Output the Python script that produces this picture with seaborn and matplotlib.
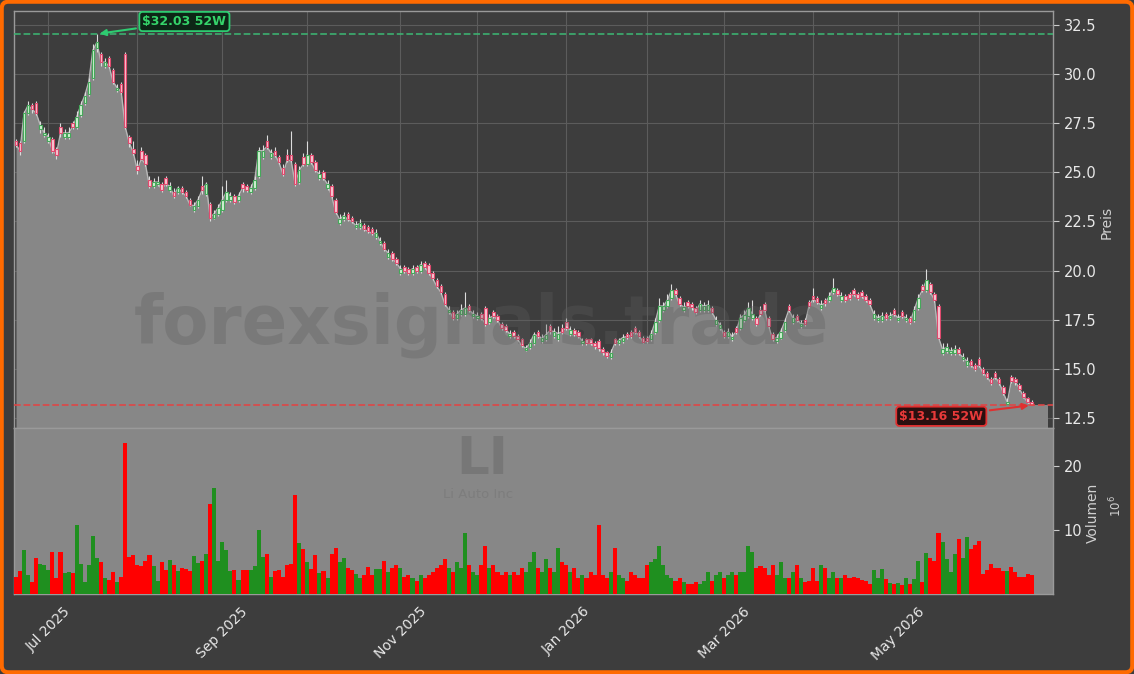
import numpy as np
import pandas as pd
import matplotlib
matplotlib.use("Agg")
import matplotlib.pyplot as plt
import seaborn as sns
from matplotlib.patches import FancyBboxPatch

# =============================================================
# DATEN (Li Auto, 52 Wochen, Tageskerzen, Volumen in Mio.)
# =============================================================

opens = [
    26.6, 26.5, 26.6, 28.0, 28.4, 28.5, 27.2, 26.9, 26.6, 26.7,
    26.2, 27.3, 26.8, 26.8, 27.5, 27.3, 27.9, 28.5, 29.0, 29.8,
    31.3, 31.0, 30.4, 30.8, 30.2, 29.2, 29.5, 31.0, 26.8, 26.2,
    25.3, 26.1, 25.9, 24.6, 24.3, 24.4, 24.4, 24.7, 24.1, 24.0,
    24.0, 24.2, 24.0, 23.6, 23.1, 23.3, 24.3, 23.9, 23.4, 22.7,
    22.9, 23.1, 23.6, 23.6, 23.8, 23.6, 24.4, 24.3, 24.0, 24.2,
    24.8, 25.8, 26.6, 25.8, 26.1, 25.8, 25.2, 25.9, 25.9, 25.4,
    24.5, 25.8, 25.4, 25.9, 25.5, 24.7, 25.0, 24.2, 24.3, 23.6,
    22.4, 22.6, 22.9, 22.7, 22.2, 22.2, 22.3, 22.2, 22.1, 21.7,
    21.4, 21.4, 20.7, 20.9, 20.6, 19.9, 20.2, 20.1, 19.9, 20.2,
    20.0, 20.4, 20.3, 19.9, 19.5, 19.2, 18.8, 17.9, 17.9, 17.6,
    17.8, 17.8, 18.2, 17.7, 17.6, 17.8, 18.1, 17.4, 17.9, 17.7,
    17.3, 17.2, 16.7, 16.9, 16.7, 16.5, 15.95, 16.1, 16.3, 16.9,
    16.4, 16.5, 17.2, 16.7, 16.5, 17.1, 17.4, 16.8, 17.0, 16.9,
    16.3, 16.5, 16.5, 16.3, 16.4, 16.0, 15.85, 15.6, 16.5, 16.3,
    16.4, 16.8, 16.9, 17.1, 16.9, 16.6, 16.6, 16.5, 16.9, 17.5,
    18.0, 18.2, 18.6, 19.0, 18.6, 18.0, 18.4, 18.3, 18.1, 18.0,
    18.0, 18.0, 18.1, 17.3, 17.1, 16.9, 16.7, 16.5, 17.1, 17.1,
    17.5, 17.7, 17.6, 17.6, 18.0, 18.3, 17.6, 16.8, 16.4, 16.6,
    17.0, 18.2, 17.4, 17.7, 17.2, 17.5, 18.4, 18.7, 18.6, 18.1,
    18.5, 18.5, 18.9, 19.0, 18.5, 18.7, 18.8, 19.0, 18.8, 18.9,
    18.7, 18.5, 17.6, 17.5, 17.5, 17.8, 17.6, 18.0, 17.5, 17.9,
    17.5, 17.6, 17.5, 18.1, 19.2, 19.0, 19.3, 18.8, 18.2, 15.8,
    15.9, 15.8, 15.8, 16.0, 15.5, 15.2, 15.4, 15.2, 15.5, 15.0,
    14.8, 14.5, 14.8, 14.5, 14.1, 13.2, 14.6, 14.5, 14.2, 13.8,
    13.5, 13.3,
]

closes = [
    26.4, 26.1, 28.0, 28.4, 28.2, 28.0, 27.4, 27.0, 26.8, 26.1,
    25.9, 27.0, 27.0, 27.0, 27.3, 27.8, 28.4, 28.9, 29.6, 31.2,
    31.6, 30.6, 30.6, 30.4, 29.6, 29.3, 29.1, 27.3, 26.5, 26.0,
    25.1, 25.7, 25.4, 24.3, 24.5, 24.5, 24.1, 24.4, 24.3, 23.8,
    24.2, 24.0, 23.8, 23.35, 23.3, 23.6, 24.1, 24.4, 22.7, 22.9,
    23.2, 23.6, 24.0, 23.8, 23.5, 23.8, 24.2, 24.1, 24.2, 24.6,
    26.1, 26.1, 26.3, 26.0, 25.9, 25.5, 24.9, 25.6, 25.6, 24.4,
    25.1, 25.4, 25.9, 25.5, 25.1, 24.9, 24.7, 24.4, 23.8, 23.0,
    22.6, 22.8, 22.6, 22.5, 22.3, 22.4, 22.1, 22.0, 21.9, 21.9,
    21.5, 21.1, 20.9, 20.6, 20.4, 20.1, 20.0, 19.9, 20.1, 20.0,
    20.3, 20.2, 19.9, 19.6, 19.2, 18.9, 18.3, 18.0, 17.6, 17.8,
    18.0, 18.1, 18.0, 17.8, 17.7, 17.6, 17.3, 17.6, 17.7, 17.5,
    17.1, 17.0, 16.8, 16.7, 16.5, 16.2, 16.05, 16.3, 16.75, 16.7,
    16.55, 16.75, 16.95, 16.9, 16.8, 16.9, 17.1, 17.0, 16.8, 16.7,
    16.4, 16.3, 16.3, 16.15, 16.05, 15.85, 15.65, 15.8, 16.3, 16.45,
    16.6, 16.65, 16.7, 16.9, 16.7, 16.35, 16.4, 16.8, 17.4, 18.2,
    18.2, 18.5, 19.0, 18.8, 18.3, 18.15, 18.2, 18.15, 17.9, 18.3,
    18.2, 18.25, 17.9, 17.5, 17.25, 16.7, 16.9, 16.65, 16.9, 17.6,
    17.75, 18.1, 17.8, 17.3, 17.8, 18.0, 17.2, 16.5, 16.6, 16.9,
    17.4, 18.0, 17.6, 17.5, 17.3, 17.3, 18.2, 18.55, 18.4, 18.25,
    18.35, 18.7, 19.1, 18.8, 18.7, 18.5, 18.6, 18.8, 18.6, 18.7,
    18.5, 18.3, 17.8, 17.6, 17.7, 17.6, 17.7, 17.8, 17.6, 17.7,
    17.6, 17.4, 18.0, 18.6, 19.0, 19.5, 18.9, 18.5, 16.6, 16.0,
    16.1, 15.9, 16.0, 15.8, 15.6, 15.4, 15.2, 15.0, 15.2, 14.8,
    14.6, 14.3, 14.6, 14.3, 13.8, 13.3, 14.4, 14.35, 14.0, 13.6,
    13.3, 13.16,
]

highs = [
    26.7, 26.6, 28.1, 28.6, 28.5, 28.6, 27.6, 27.3, 27.0, 26.8,
    26.3, 27.5, 27.2, 27.3, 27.6, 28.1, 28.6, 29.1, 29.8, 31.5,
    32.03, 31.1, 30.8, 30.9, 30.3, 29.5, 29.6, 31.1, 26.9, 26.6,
    25.6, 26.3, 26.0, 24.8, 24.7, 24.8, 24.5, 24.8, 24.5, 24.2,
    24.3, 24.3, 24.1, 23.7, 23.5, 23.8, 24.8, 24.5, 23.5, 23.1,
    23.4, 24.3, 24.6, 24.0, 23.9, 24.0, 24.5, 24.4, 24.4, 24.8,
    26.3, 26.4, 26.9, 26.2, 26.3, 25.9, 25.4, 26.2, 27.1, 25.5,
    25.3, 26.0, 26.6, 26.0, 25.6, 25.1, 25.1, 24.6, 24.4, 23.7,
    22.9, 23.0, 23.0, 22.8, 22.5, 22.6, 22.4, 22.3, 22.2, 22.1,
    21.7, 21.5, 21.1, 21.0, 20.7, 20.3, 20.3, 20.2, 20.3, 20.3,
    20.5, 20.5, 20.4, 20.0, 19.6, 19.3, 18.9, 18.2, 18.0, 18.0,
    18.3, 18.9, 18.3, 18.0, 17.9, 17.9, 18.2, 17.8, 18.0, 17.8,
    17.4, 17.3, 17.0, 17.0, 16.8, 16.6, 16.2, 16.5, 16.9, 17.0,
    16.8, 17.3, 17.3, 17.1, 17.2, 17.3, 17.6, 17.2, 17.1, 17.0,
    16.6, 16.6, 16.6, 16.4, 16.5, 16.1, 15.9, 16.0, 16.6, 16.6,
    16.8, 16.9, 17.0, 17.2, 17.0, 16.7, 16.7, 17.0, 17.6, 18.6,
    18.4, 18.8, 19.3, 19.1, 18.7, 18.4, 18.5, 18.4, 18.2, 18.5,
    18.4, 18.5, 18.2, 17.7, 17.4, 17.0, 17.1, 16.9, 17.2, 17.8,
    18.0, 18.4, 18.5, 17.7, 18.2, 18.4, 17.7, 16.9, 16.8, 17.1,
    17.6, 18.3, 17.8, 17.8, 17.5, 17.6, 18.5, 19.1, 18.7, 18.5,
    18.6, 18.9, 19.6, 19.1, 18.9, 18.8, 18.9, 19.1, 18.9, 19.0,
    18.8, 18.6, 18.0, 17.8, 17.9, 17.9, 17.9, 18.1, 17.8, 18.0,
    17.8, 17.7, 18.2, 18.8, 19.3, 20.1, 19.4, 18.9, 18.3, 16.3,
    16.3, 16.1, 16.2, 16.1, 15.8, 15.6, 15.5, 15.3, 15.6, 15.1,
    14.9, 14.6, 14.9, 14.6, 14.2, 13.5, 14.7, 14.6, 14.3, 13.9,
    13.6, 13.4,
]

lows = [
    26.3, 25.9, 26.5, 27.9, 28.0, 27.9, 27.0, 26.8, 26.5, 26.0,
    25.7, 26.8, 26.7, 26.7, 27.2, 27.2, 27.8, 28.4, 28.9, 29.7,
    31.1, 30.4, 30.3, 30.3, 29.5, 29.1, 29.0, 27.2, 26.3, 25.9,
    24.9, 25.6, 25.3, 24.2, 24.2, 24.3, 24.0, 24.3, 24.0, 23.7,
    23.9, 23.9, 23.7, 23.3, 23.0, 23.2, 23.9, 23.8, 22.5, 22.6,
    22.8, 23.0, 23.5, 23.5, 23.4, 23.5, 24.0, 24.0, 23.9, 24.1,
    24.7, 25.7, 26.2, 25.7, 25.8, 25.4, 24.8, 25.5, 25.5, 24.3,
    24.4, 25.3, 25.3, 25.4, 25.0, 24.6, 24.6, 24.1, 23.7, 22.9,
    22.3, 22.5, 22.5, 22.4, 22.1, 22.1, 22.0, 21.9, 21.8, 21.6,
    21.3, 21.0, 20.6, 20.5, 20.3, 19.8, 19.9, 19.8, 19.8, 19.9,
    19.9, 20.1, 19.8, 19.5, 19.1, 18.8, 18.2, 17.8, 17.5, 17.5,
    17.7, 17.7, 17.9, 17.6, 17.5, 17.5, 17.2, 17.3, 17.6, 17.4,
    17.0, 16.9, 16.6, 16.6, 16.4, 16.1, 15.9, 16.0, 16.2, 16.6,
    16.3, 16.4, 16.8, 16.6, 16.4, 16.8, 17.0, 16.7, 16.7, 16.6,
    16.2, 16.2, 16.2, 16.0, 15.9, 15.7, 15.55, 15.5, 16.2, 16.2,
    16.3, 16.5, 16.6, 16.8, 16.6, 16.3, 16.3, 16.4, 16.8, 17.4,
    17.9, 18.1, 18.5, 18.7, 18.2, 17.9, 18.1, 18.0, 17.8, 17.9,
    17.9, 17.9, 17.8, 17.2, 17.0, 16.6, 16.6, 16.4, 16.8, 17.0,
    17.4, 17.6, 17.5, 17.2, 17.7, 17.9, 17.1, 16.4, 16.3, 16.5,
    16.9, 17.9, 17.3, 17.4, 17.1, 17.2, 18.1, 18.4, 18.3, 18.0,
    18.2, 18.4, 18.8, 18.7, 18.4, 18.4, 18.5, 18.7, 18.5, 18.6,
    18.4, 18.2, 17.5, 17.4, 17.4, 17.5, 17.5, 17.7, 17.4, 17.6,
    17.4, 17.3, 17.4, 18.0, 18.9, 18.9, 18.8, 18.4, 16.5, 15.7,
    15.8, 15.7, 15.7, 15.7, 15.4, 15.1, 15.1, 14.9, 15.1, 14.7,
    14.5, 14.2, 14.5, 14.2, 13.7, 13.25, 14.3, 14.2, 13.9, 13.5,
    13.25, 13.16,
]

volumes = [
    2.7, 3.6, 6.9, 3.0, 1.8, 5.6, 4.7, 4.5, 3.75, 6.6,
    2.5, 6.6, 3.3, 3.4, 3.3, 10.8, 4.7, 1.9, 4.5, 9.1,
    5.6, 5.0, 2.5, 2.2, 3.4, 1.8, 2.7, 23.6, 5.8, 6.1,
    4.5, 4.4, 5.2, 6.1, 4.3, 2.0, 5.0, 3.75, 5.3, 4.5,
    3.6, 4.1, 3.9, 3.6, 5.9, 4.9, 5.2, 6.25, 14.1, 16.6,
    5.2, 8.1, 6.9, 3.6, 3.75, 2.2, 3.75, 3.75, 3.75, 4.4,
    10.0, 5.8, 6.25, 2.7, 3.6, 3.75, 2.7, 4.5, 4.7, 15.5,
    8.0, 7.0, 5.0, 3.9, 6.1, 3.3, 3.6, 2.5, 6.25, 7.2,
    5.0, 5.6, 4.1, 3.75, 3.1, 2.5, 3.0, 4.2, 3.0, 3.9,
    3.9, 5.2, 3.4, 4.1, 4.5, 4.1, 2.7, 3.0, 2.5, 2.0,
    3.0, 2.5, 3.0, 3.5, 4.0, 4.5, 5.5, 4.0, 3.5, 5.0,
    4.0, 9.5, 4.5, 3.5, 3.0, 4.5, 7.5, 4.0, 4.5, 3.5,
    3.0, 3.5, 3.0, 3.5, 3.0, 4.0, 3.5, 5.0, 6.5, 4.0,
    3.5, 5.5, 4.0, 3.5, 7.2, 5.0, 4.5, 3.5, 4.0, 2.5,
    3.0, 2.5, 3.5, 3.0, 10.8, 3.0, 2.5, 3.5, 7.2, 3.0,
    2.5, 2.0, 3.5, 3.0, 2.5, 2.5, 4.5, 5.0, 5.5, 7.5,
    4.5, 3.0, 2.5, 2.0, 2.5, 1.8, 1.5, 1.5, 1.8, 1.5,
    2.0, 3.5, 2.0, 3.0, 3.5, 2.5, 3.0, 3.5, 3.0, 3.5,
    3.5, 7.5, 6.5, 4.0, 4.3, 4.0, 3.0, 4.5, 3.0, 5.0,
    2.5, 2.5, 3.5, 4.5, 2.5, 1.8, 2.0, 4.0, 2.0, 4.5,
    4.0, 2.5, 3.5, 2.5, 2.5, 3.0, 2.5, 2.6, 2.5, 2.2,
    2.0, 1.6, 3.75, 2.5, 3.9, 2.3, 1.7, 1.6, 1.75, 1.4,
    2.5, 1.6, 2.3, 5.2, 1.9, 6.4, 5.6, 5.2, 9.5, 8.1,
    5.5, 3.4, 6.25, 8.6, 5.6, 8.9, 7.0, 7.65, 8.3, 3.1,
    3.75, 4.7, 4.1, 4.1, 3.6, 3.6, 4.2, 3.4, 2.7, 2.7,
    3.1, 2.9,
]

# US-Boersenfeiertage im Zeitraum
holidays = ["2025-06-19", "2025-07-04", "2025-09-01", "2025-11-27", "2025-12-25",
            "2026-01-01", "2026-01-19", "2026-02-16", "2026-04-03", "2026-05-25"]

ticker = "LI"
company = "Li Auto Inc"
watermark = "forexsignals.trade"

# =============================================================
# AUFBEREITUNG
# =============================================================

dates = pd.bdate_range("2025-06-18", "2026-06-18", freq="C", holidays=holidays)
n = len(closes)
dates = dates[:n]
idx = np.arange(n)

df = pd.DataFrame({"date": dates, "open": opens, "high": highs, "low": lows,
                   "close": closes, "volume": volumes})
df["up"] = df["close"] >= df["open"]

# erste Handelstage jedes Monats (ab Juli)
month_first = pd.Series(idx, index=dates).groupby(dates.to_period("M")).first()
month_first = month_first.iloc[1:]
tick_pos = month_first.values
tick_lab = [p.strftime("%b %Y") if p.month % 2 == 1 else "" for p in month_first.index]

BG = "#3d3d3d"
FILL = "#878787"
GRID = "#5c5c5c"
SPINE = "#9a9a9a"
TXT = "#e8e8e8"

sns.set_style("dark")
plt.rcParams["font.family"] = ["DejaVu Sans"]

# =============================================================
# GRAFIK
# =============================================================

fig = plt.figure(figsize=(11.34, 6.74), dpi=100, facecolor=BG)
ax = fig.add_axes([0.0123, 0.365, 0.9163, 0.6187])
axv = fig.add_axes([0.0123, 0.1187, 0.9163, 0.2463], sharex=ax)

y_bot, y_top = 12.0, 33.2

# --- Kurs-Panel ---
ax.set_facecolor(BG)
ax.fill_between(idx, df["close"], y_bot, color=FILL, lw=0, zorder=1)
ax.fill_between([n - 1, n + 3], closes[-1], y_bot, color=FILL, lw=0, zorder=1)
sns.lineplot(x=idx, y=df["close"].values, ax=ax, color="#b8b8b8", linewidth=1, zorder=2)

ax.vlines(idx, df["low"], df["high"], color="#dcdcdc", lw=0.8, zorder=3)
body_lo = np.minimum(df["open"], df["close"])
body_h = np.abs(df["close"] - df["open"])
up = df["up"].values
ax.bar(idx[up], body_h[up], bottom=body_lo[up], width=0.62,
       color="#d2f3d4", edgecolor="#45a85a", linewidth=0.8, zorder=4)
ax.bar(idx[~up], body_h[~up], bottom=body_lo[~up], width=0.62,
       color="#f8c8d4", edgecolor="#e04a6e", linewidth=0.8, zorder=4)

hi_i = int(np.argmax(highs))
lo_i = int(np.argmin(lows))
hi, lo = highs[hi_i], lows[lo_i]
ax.axhline(hi, color="#3cb371", ls="--", lw=1.3, alpha=0.9, zorder=5)
ax.axhline(lo, color="#e04545", ls="--", lw=1.3, alpha=0.9, zorder=5)

ax.annotate(rf"\${hi:.2f} 52W", xy=(hi_i, hi), xytext=(63, 9), textcoords="offset points",
            ha="center", va="center", color="#35d46a", fontsize=9, fontweight="bold",
            bbox=dict(boxstyle="round,pad=0.25", fc="#0d2616", ec="#2ecc71", lw=1.3),
            arrowprops=dict(arrowstyle="-|>", color="#2ecc71", lw=1.5, mutation_scale=9),
            zorder=7)
ax.annotate(rf"\${lo:.2f} 52W", xy=(lo_i, lo), xytext=(-65, -8), textcoords="offset points",
            ha="center", va="center", color="#e83a3a", fontsize=9, fontweight="bold",
            bbox=dict(boxstyle="round,pad=0.25", fc="#2a1010", ec="#e03030", lw=1.3),
            arrowprops=dict(arrowstyle="-|>", color="#e03030", lw=1.5, mutation_scale=9),
            zorder=7)

ax.text(0.45, 0.247, watermark, transform=ax.transAxes, ha="center", va="center",
        fontsize=48.5, fontweight="bold", color="#5e5e5e", alpha=0.33, zorder=6)

ax.set_xlim(-0.5, n + 4.3)
ax.set_ylim(y_bot, y_top)
ax.yaxis.tick_right()
ax.set_yticks(np.arange(12.5, 33, 2.5))
ax.set_yticklabels([f"{v:.1f}" for v in np.arange(12.5, 33, 2.5)])
ax.set_xticks(tick_pos)
ax.grid(True, color=GRID, lw=0.8)
ax.set_axisbelow(True)
ax.tick_params(axis="x", bottom=False, labelbottom=False)
ax.tick_params(axis="y", colors=TXT, labelsize=10.5, length=4, direction="out",
               right=True, left=False, color="#cccccc")
ax.set_ylabel("Preis", color="#d0d0d0", fontsize=10)
ax.yaxis.set_label_position("right")
ax.yaxis.set_label_coords(1.045, 0.494)

# --- Volumen-Panel ---
axv.set_facecolor(FILL)
vol_col = np.where(up, "#1f8f1f", "#ff0000")
axv.bar(idx, df["volume"], width=1.0, color=vol_col, linewidth=0, zorder=3)
axv.set_ylim(0, max(volumes) * 1.1)
axv.yaxis.tick_right()
axv.set_yticks([10, 20])
axv.grid(False)
axv.set_xticks(tick_pos)
axv.set_xticklabels(tick_lab, rotation=45)
axv.tick_params(axis="x", colors=TXT, labelsize=10, length=4, color="#dddddd")
axv.tick_params(axis="y", colors=TXT, labelsize=10.5, length=4, right=True, left=False,
                color="#cccccc")
axv.set_ylabel("Volumen", color="#d0d0d0", fontsize=10)
axv.yaxis.set_label_position("right")
axv.yaxis.set_label_coords(1.032, 0.488)
axv.text(1.061, 0.53, r"$10^{6}$", transform=axv.transAxes, rotation=90,
         ha="center", va="center", color="#d0d0d0", fontsize=8.5)

axv.text(0.451, 0.81, ticker, transform=axv.transAxes, ha="center", va="center",
         fontsize=37, fontweight="bold", color="#777777", zorder=1)
axv.text(0.447, 0.6, company, transform=axv.transAxes, ha="center", va="center",
         fontsize=9.5, color="#7d7d7d", zorder=1)

for a in (ax, axv):
    for s in a.spines.values():
        s.set_visible(True)
        s.set_color(SPINE)
        s.set_linewidth(1.0)

# orangefarbener Rahmen
fig.patches.append(FancyBboxPatch((0.0015, 0.0025), 0.997, 0.995,
                                  boxstyle="round,pad=0,rounding_size=0.006",
                                  mutation_aspect=1134 / 674, transform=fig.transFigure,
                                  fill=False, ec="#ff6a00", lw=3, zorder=10))

fig.savefig("out.png", dpi=100, facecolor=BG)
